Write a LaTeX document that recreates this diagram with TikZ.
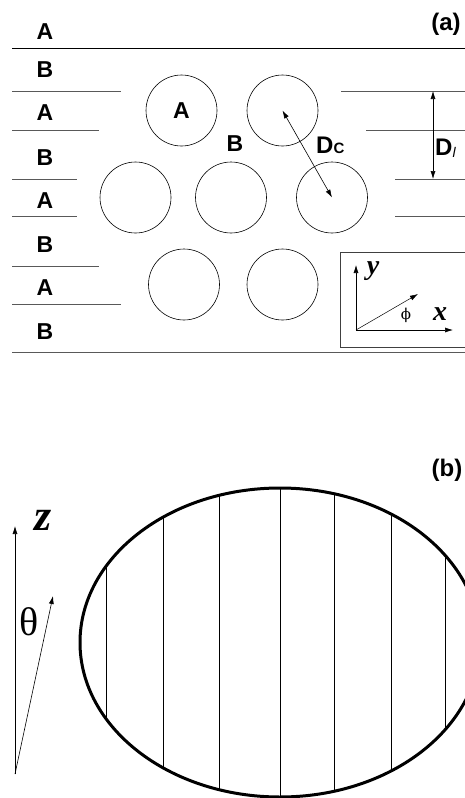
\documentclass[tikz,border=0pt]{standalone}
\usepackage{fontspec}
\setmainfont{Liberation Sans}
\newfontfamily\greekfont{Liberation Serif}
\newfontfamily\phifont{DejaVu Serif}
\usetikzlibrary{arrows.meta, positioning}

\begin{document}
\begin{tikzpicture}[x=1pt, y=-1pt,
            lbl/.style={font=\fontsize{23}{23}\selectfont\bfseries, inner sep=0pt},
            axlbl/.style={font=\greekfont\bfseries\itshape, inner sep=0pt},
            layer/.style={draw=black!65, line width=1pt},
            pore/.style={circle, draw, minimum size=71pt, inner sep=0pt, line width=0.6pt},
            tip/.style={-{Latex[length=8pt, width=5pt]}, line width=0.6pt},
            dbl/.style={{Latex[length=8pt, width=5pt]}-{Latex[length=8pt, width=5pt]}, line width=0.6pt}]
  \useasboundingbox (0,0) rectangle (465,798);
  \clip (0,0) rectangle (465,798);
  \foreach \n/\t/\y in {l1/A/32,l2/B/70,l3/A/113,l4/B/158,l5/A/201,l6/B/245,l7/A/288,l8/B/332}{
      \node[lbl] (\n) at (45,\y) {\t};}
  \node[lbl, font=\fontsize{24}{24}\selectfont\bfseries] (pa) at (446,24) {(a)};
  \draw[line width=1pt] (12,48) -- (470,48);
  \draw[layer] (12,352) -- (470,352);
  \foreach \y/\a/\b in {91/121/341,130/99/366,179/77/395,216/77/395,266/99/366,304/121/341}
      \draw[layer] (12,\y) -- (\a,\y) (\b,\y) -- (470,\y);
  \foreach \n/\x/\y in {c11/181.5/110.5,c12/282.5/110.5,c21/135.5/197.5,c22/231/197.5,
                        c23/332/197.5,c31/184/284.5,c32/282.5/284.5}{
      \node[pore] (\n) at (\x,\y) {};}
  \node[lbl] (lA) at (c11.center) {A};
  \node[lbl] (lB) at (235,144) {B};
  \draw[dbl] (c12.center) -- (c23.center);
  \node[anchor=base west, inner sep=0pt, font=\bfseries] (dc) at (316,153)
      {\fontsize{24}{24}\selectfont D\fontsize{15}{15}\selectfont C};
  \coordinate (dl1) at (433,91);
  \coordinate (dl2) at (433,179);
  \draw[dbl] (dl1) -- (dl2);
  \node[anchor=base west, inner sep=0pt] (dl) at (435,155)
      {\fontsize{24}{24}\selectfont\bfseries D\raisebox{-2pt}{\fontsize{14}{14}\selectfont\mdseries\itshape l}};
  \draw[fill=white, draw=black!75, line width=0.8pt] (340,252) rectangle (470,347);
  \coordinate (o) at (356,330);
  \coordinate (ytip) at (356,265);
  \coordinate (xtip) at (453,330);
  \coordinate (ptip) at (418,294);
  \draw[tip] (o) -- (ytip);
  \draw[tip] (o) -- (xtip);
  \draw[tip, line width=0.5pt] (o) -- (ptip);
  \node[axlbl, font=\fontsize{28}{28}\selectfont\greekfont\bfseries\itshape] (ylab) at (373,271) {y};
  \node[axlbl, font=\fontsize{28}{28}\selectfont\greekfont\bfseries\itshape] (xlab) at (440,314) {x};
  \node (phi) at (406,315) {\fontsize{15}{15}\selectfont\phifont ϕ};
  \node[lbl, font=\fontsize{24}{24}\selectfont\bfseries] (pb) at (447,470) {(b)};
  \begin{scope}
    \clip (280,642.5) ellipse [x radius=200, y radius=154.5];
    \foreach \x in {106,163,219,280,334,391,445}
        \draw[line width=0.8pt] (\x,480) -- (\x,800);
  \end{scope}
  \draw[line width=3pt] (280,642.5) ellipse [x radius=200, y radius=154.5];
  \coordinate (zo) at (15,774);
  \coordinate (ztip) at (15,526);
  \coordinate (ttip) at (53,596);
  \draw[tip] (zo) -- (ztip);
  \draw[tip] (zo) -- (ttip);
  \node[axlbl, font=\fontsize{44}{44}\selectfont\greekfont\bfseries\itshape] (zlab) at (43,520) {z};
  \node (thlab) at (29,622) {\fontsize{40}{40}\selectfont\greekfont θ};
\end{tikzpicture}
\end{document}
